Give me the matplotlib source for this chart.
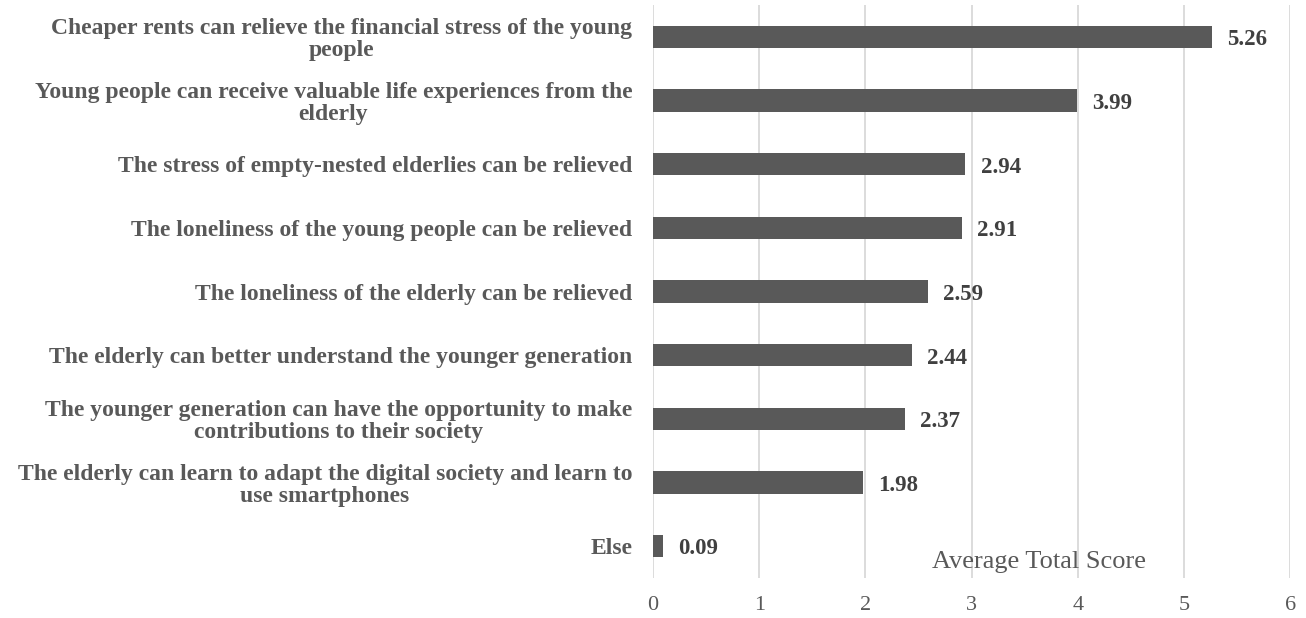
import matplotlib.pyplot as plt

# data
Categories = [
    'Cheaper rents can relieve the financial stress of the young\npeople',
    'Young people can receive valuable life experiences from the\nelderly',
    'The stress of empty-nested elderlies can be relieved',
    'The loneliness of the young people can be relieved',
    'The loneliness of the elderly can be relieved',
    'The elderly can better understand the younger generation',
    'The younger generation can have the opportunity to make\ncontributions to their society',
    'The elderly can learn to adapt the digital society and learn to\nuse smartphones',
    'Else',
]
Scores = [5.26, 3.99, 2.94, 2.91, 2.59, 2.44, 2.37, 1.98, 0.09]
X_Ticks = [0, 1, 2, 3, 4, 5, 6]

Bar_Color   = '#595959'
Text_Color  = '#595959'
Value_Color = '#404040'
Grid_Color  = '#d9d9d9'

plt.rcParams['font.family'] = ['Liberation Serif', 'DejaVu Serif']

fig = plt.figure(figsize=(13.06, 6.18), dpi=100)
ax = fig.add_axes([0.5, 0.0647, 0.488, 0.927])

Y_Pos = list(range(len(Categories)))
ax.barh(Y_Pos, Scores, height=0.35, color=Bar_Color)

for y, v in zip(Y_Pos, Scores):
    ax.annotate('%.2f' % v, (v, y), xytext=(11, -2), textcoords='offset points',
                ha='left', va='center', fontsize=16.5, fontweight='bold', color=Value_Color)

ax.set_ylim(len(Categories) - 0.5, -0.5)
ax.set_xlim(0, 6)
ax.set_xticks(X_Ticks)
ax.set_xticklabels([str(t) for t in X_Ticks], fontsize=16, color=Text_Color)
ax.tick_params(axis='x', length=0, pad=13)
ax.set_yticks(Y_Pos)
ax.set_yticklabels(Categories, fontsize=17, fontweight='bold', color=Text_Color,
                   multialignment='center', linespacing=1.05)
ax.tick_params(axis='y', length=0, pad=15)

ax.grid(axis='x', color=Grid_Color, linewidth=1.3)
ax.set_axisbelow(True)
for s in ax.spines.values():
    s.set_visible(False)

ax.text(3.63, 8.25, 'Average Total Score', ha='center', va='center',
        fontsize=19, color=Text_Color)

plt.savefig('out.png', dpi=100)
plt.close()
